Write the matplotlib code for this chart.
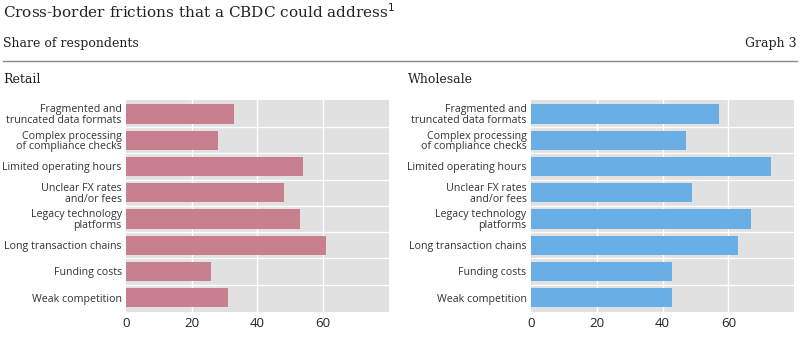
import matplotlib
matplotlib.use('Agg')
import matplotlib.pyplot as plt
from matplotlib.lines import Line2D

# Categories (top to bottom)
categories = [
    'Fragmented and\ntruncated data formats',
    'Complex processing\nof compliance checks',
    'Limited operating hours',
    'Unclear FX rates\nand/or fees',
    'Legacy technology\nplatforms',
    'Long transaction chains',
    'Funding costs',
    'Weak competition',
]

# Share of respondents (%)
retail = [33, 28, 54, 48, 53, 61, 26, 31]
wholesale = [57, 47, 73, 49, 67, 63, 43, 43]

xticks = [0, 20, 40, 60]

retail_color = '#c8808f'
wholesale_color = '#6aaee6'
bg_color = '#e1e1e1'

serif = ['DejaVu Serif']
sans = ['Open Sans', 'DejaVu Sans']

fig = plt.figure(figsize=(8, 3.38), dpi=100)

# Header
fig.text(0.004, 0.965, 'Cross-border frictions that a CBDC could address$^{1}$',
         fontsize=11, family=serif, va='center', ha='left', color='#222222')
fig.text(0.004, 0.872, 'Share of respondents', fontsize=9, family=serif,
         va='center', ha='left', color='#222222')
fig.text(0.996, 0.872, 'Graph 3', fontsize=9, family=serif,
         va='center', ha='right', color='#222222')
fig.add_artist(Line2D([0.004, 0.996], [0.82, 0.82], color='#888888', lw=1))
fig.text(0.004, 0.765, 'Retail', fontsize=9, family=serif,
         va='center', ha='left', color='#222222')
fig.text(0.51, 0.765, 'Wholesale', fontsize=9, family=serif,
         va='center', ha='left', color='#222222')

panels = [
    ([0.1575, 0.078, 0.3285, 0.626], retail, retail_color),
    ([0.6634, 0.078, 0.3295, 0.626], wholesale, wholesale_color),
]

for rect, values, color in panels:
    ax = fig.add_axes(rect)
    ax.set_facecolor(bg_color)
    pos = list(range(len(categories)))
    ax.barh(pos, values, height=0.73, color=color, zorder=3)
    ax.set_ylim(len(categories) - 0.47, -0.53)
    ax.set_xlim(0, 80)
    ax.set_xticks(xticks)
    ax.set_xticklabels([str(t) for t in xticks], family=sans, fontsize=9.5, color='#222222')
    ax.set_yticks(pos)
    ax.set_yticklabels(categories, family=sans, fontsize=7.7, color='#333333',
                       linespacing=0.95)
    ax.tick_params(length=0, pad=3)
    ax.tick_params(axis='x', pad=4)
    for t in xticks[1:]:
        ax.axvline(t, color='white', lw=1.0, zorder=1)
    for b in range(len(categories) - 1):
        ax.axhline(b + 0.5, color='white', lw=1.0, zorder=1)
    for s in ax.spines.values():
        s.set_visible(False)

fig.savefig('out.png', dpi=100)
